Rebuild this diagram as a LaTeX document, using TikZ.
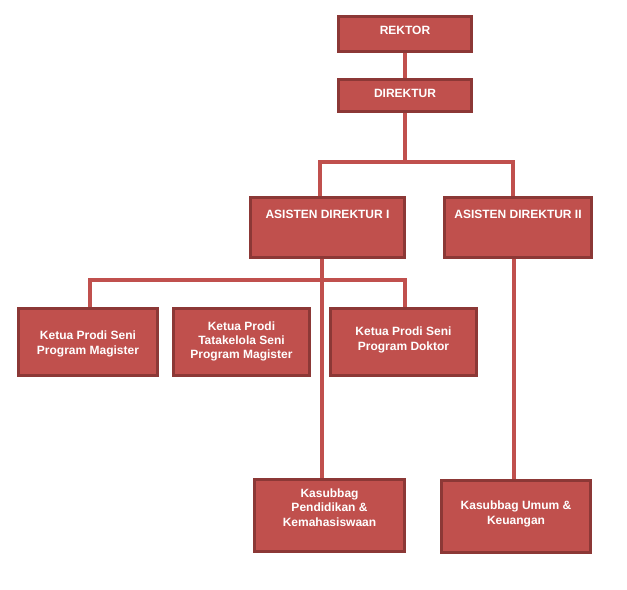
\documentclass[tikz,border=0pt]{standalone}
\usepackage{fontspec}
\setmainfont{Liberation Sans}
\begin{document}
\begin{tikzpicture}[x=0.75pt,y=-0.75pt]
\definecolor{boxfill}{HTML}{C0504D}
\definecolor{boxline}{HTML}{8C3836}
\definecolor{connline}{HTML}{C0504D}
\tikzset{
  orgbox/.style={draw=boxline, fill=boxfill, line width=2.1pt, rectangle, inner sep=0pt,
    text=white, font=\fontsize{9pt}{10.8pt}\selectfont\bfseries, align=center},
  orgtext/.style={text=white, font=\fontsize{9pt}{10.8pt}\selectfont\bfseries, align=center, inner sep=0pt},
  conn/.style={draw=connline, line width=2.4pt}
}
\useasboundingbox (0,0) rectangle (627,589);
% boxes
\node[orgbox, minimum width=100pt, minimum height=26.6pt] (rek) at (405,34) {};
\node[orgbox, minimum width=100pt, minimum height=24.4pt] (dir) at (405,95.5) {};
\node[orgbox, minimum width=115.9pt, minimum height=45.4pt] (adI) at (327.5,227.5) {};
\node[orgbox, minimum width=110.6pt, minimum height=45.4pt] (adII) at (518,227.5) {};
\node[orgbox, minimum width=104.6pt, minimum height=50.6pt] (k1) at (88,342) {};
\node[orgbox, minimum width=102.4pt, minimum height=50.6pt] (k2) at (241.5,342) {};
\node[orgbox, minimum width=109.9pt, minimum height=50.6pt] (k3) at (403.5,342) {};
\node[orgbox, minimum width=112.9pt, minimum height=54.4pt] (kp) at (329.5,515.5) {};
\node[orgbox, minimum width=112.1pt, minimum height=54.4pt] (ku) at (516,516.5) {};
% texts
\node[orgtext, anchor=base] (rekt) at (405,34) {REKTOR};
\node[orgtext, anchor=base] (dirt) at (405,97) {DIREKTUR};
\node[orgtext, anchor=base] (adIt) at (327.5,218) {ASISTEN DIREKTUR I};
\node[orgtext, anchor=base] (adIIt) at (518,218) {ASISTEN DIREKTUR II};
\node[orgtext] (k1t) at (88,344) {Ketua Prodi Seni\\Program Magister};
\node[orgtext] (k2t) at (241.5,341.5) {Ketua Prodi\\Tatakelola Seni\\Program Magister};
\node[orgtext] (k3t) at (403.5,340) {Ketua Prodi Seni\\Program Doktor};
\node[orgtext] (kpt) at (329.5,507.5) {Kasubbag\\Pendidikan \&\\Kemahasiswaan};
\node[orgtext] (kut) at (516,514) {Kasubbag Umum \&\\Keuangan};
% junctions
\coordinate (j1) at (405,162);
\coordinate (j2) at (322,280);
% connectors
\draw[conn] (rek.south) -- (dir.north);
\draw[conn] (dir.south) -- (j1);
\draw[conn] (adI.north -| 320,0) |- (j1) -| (adII.north -| 513,0);
\draw[conn] (adI.south -| j2) -- (kp.north -| j2);
\draw[conn] (k1.north -| 90,0) |- (j2) -| (k3.north -| 405,0);
\draw[conn] (k2.north -| 244,0) -- (k2.north -| 244,0 |- j2);
\draw[conn] (adII.south -| 514,0) -- (ku.north -| 514,0);
\end{tikzpicture}
\end{document}
